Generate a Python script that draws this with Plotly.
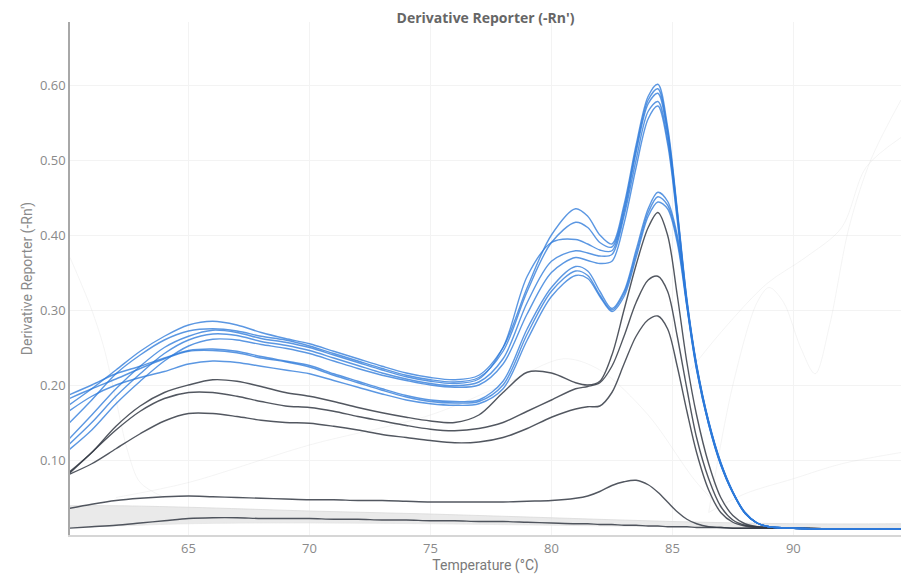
import plotly.graph_objects as go

# Temperature grid (°C) shared by the melt-curve traces
temperature = [60, 61, 62, 63, 64, 65, 66, 67, 68, 69, 70, 71, 72, 73, 74, 75, 76, 77, 78, 79, 80,
               81, 81.5, 82, 82.5, 83, 83.5, 84, 84.4, 84.8, 85.2, 85.6, 86, 86.5, 87, 87.5, 88,
               88.5, 89, 90, 92, 94.5]

# Amplified samples, main product peak near 84.4 °C
blue_1 = [0.172, 0.195, 0.220, 0.245, 0.265, 0.280, 0.285, 0.280, 0.270, 0.262, 0.255, 0.245, 0.235,
          0.225, 0.216, 0.210, 0.207, 0.213, 0.250, 0.330, 0.400, 0.435, 0.425, 0.400, 0.388, 0.440,
          0.520, 0.585, 0.601, 0.545, 0.435, 0.315, 0.228, 0.152, 0.097, 0.058, 0.030, 0.016, 0.011,
          0.009, 0.008, 0.008]
blue_2 = [0.147, 0.180, 0.215, 0.240, 0.260, 0.272, 0.275, 0.272, 0.265, 0.260, 0.252, 0.242, 0.232,
          0.222, 0.213, 0.207, 0.204, 0.210, 0.245, 0.325, 0.390, 0.417, 0.410, 0.390, 0.384, 0.435,
          0.515, 0.580, 0.595, 0.540, 0.432, 0.312, 0.226, 0.150, 0.096, 0.057, 0.030, 0.016, 0.011,
          0.009, 0.008, 0.008]
blue_3 = [0.126, 0.160, 0.195, 0.225, 0.250, 0.265, 0.273, 0.270, 0.262, 0.257, 0.250, 0.240, 0.230,
          0.220, 0.211, 0.205, 0.202, 0.208, 0.250, 0.345, 0.390, 0.394, 0.388, 0.380, 0.379, 0.430,
          0.510, 0.575, 0.589, 0.535, 0.430, 0.312, 0.225, 0.150, 0.095, 0.057, 0.029, 0.016, 0.011,
          0.009, 0.008, 0.008]
blue_4 = [0.119, 0.150, 0.185, 0.215, 0.242, 0.260, 0.268, 0.266, 0.258, 0.253, 0.246, 0.236, 0.226,
          0.216, 0.208, 0.202, 0.199, 0.204, 0.235, 0.310, 0.365, 0.379, 0.376, 0.372, 0.374, 0.425,
          0.500, 0.565, 0.578, 0.528, 0.425, 0.308, 0.222, 0.148, 0.094, 0.056, 0.029, 0.016, 0.011,
          0.009, 0.008, 0.008]
blue_5 = [0.112, 0.140, 0.175, 0.205, 0.232, 0.252, 0.261, 0.260, 0.254, 0.249, 0.242, 0.232, 0.222,
          0.213, 0.206, 0.200, 0.197, 0.200, 0.228, 0.295, 0.350, 0.370, 0.366, 0.362, 0.365, 0.415,
          0.490, 0.555, 0.572, 0.522, 0.420, 0.305, 0.220, 0.147, 0.093, 0.056, 0.029, 0.016, 0.011,
          0.009, 0.008, 0.008]
blue_6 = [0.186, 0.200, 0.215, 0.225, 0.236, 0.246, 0.248, 0.245, 0.238, 0.232, 0.226, 0.215, 0.205,
          0.195, 0.186, 0.180, 0.178, 0.180, 0.205, 0.275, 0.330, 0.358, 0.352, 0.325, 0.302, 0.325,
          0.380, 0.435, 0.457, 0.445, 0.400, 0.310, 0.226, 0.151, 0.096, 0.057, 0.030, 0.016, 0.011,
          0.009, 0.008, 0.008]
blue_7 = [0.181, 0.195, 0.208, 0.222, 0.235, 0.245, 0.246, 0.243, 0.236, 0.231, 0.224, 0.213, 0.203,
          0.193, 0.184, 0.178, 0.176, 0.178, 0.200, 0.268, 0.325, 0.352, 0.346, 0.320, 0.300, 0.322,
          0.375, 0.430, 0.451, 0.440, 0.395, 0.307, 0.224, 0.150, 0.095, 0.057, 0.030, 0.016, 0.011,
          0.009, 0.008, 0.008]
blue_8 = [0.164, 0.185, 0.200, 0.210, 0.218, 0.228, 0.232, 0.230, 0.225, 0.220, 0.215, 0.206, 0.197,
          0.188, 0.180, 0.175, 0.173, 0.175, 0.195, 0.260, 0.318, 0.346, 0.342, 0.318, 0.298, 0.318,
          0.370, 0.425, 0.444, 0.435, 0.390, 0.304, 0.222, 0.148, 0.094, 0.056, 0.029, 0.016, 0.011,
          0.009, 0.008, 0.008]

# Dark samples (standards / low-template wells)
grey_1 = [0.082, 0.110, 0.145, 0.172, 0.190, 0.200, 0.207, 0.205, 0.198, 0.190, 0.185, 0.178, 0.170,
          0.163, 0.157, 0.152, 0.150, 0.160, 0.190, 0.217, 0.216, 0.203, 0.200, 0.205, 0.240, 0.300,
          0.360, 0.410, 0.430, 0.400, 0.320, 0.230, 0.160, 0.095, 0.050, 0.026, 0.015, 0.011, 0.010,
          0.009, 0.008, 0.008]
grey_2 = [0.080, 0.110, 0.140, 0.165, 0.182, 0.190, 0.190, 0.185, 0.178, 0.172, 0.170, 0.165, 0.158,
          0.152, 0.146, 0.141, 0.139, 0.142, 0.150, 0.165, 0.180, 0.195, 0.198, 0.203, 0.225, 0.265,
          0.310, 0.340, 0.345, 0.325, 0.265, 0.195, 0.130, 0.075, 0.038, 0.020, 0.013, 0.011, 0.010,
          0.009, 0.008, 0.008]
grey_3 = [0.080, 0.095, 0.115, 0.135, 0.152, 0.162, 0.162, 0.158, 0.153, 0.150, 0.149, 0.145, 0.140,
          0.134, 0.130, 0.126, 0.123, 0.124, 0.130, 0.142, 0.157, 0.168, 0.171, 0.172, 0.190, 0.228,
          0.265, 0.287, 0.292, 0.275, 0.225, 0.165, 0.110, 0.060, 0.030, 0.017, 0.012, 0.010, 0.010,
          0.009, 0.008, 0.008]
grey_4 = [0.035, 0.041, 0.046, 0.049, 0.051, 0.052, 0.051, 0.050, 0.049, 0.048, 0.047, 0.047, 0.046,
          0.046, 0.045, 0.044, 0.044, 0.044, 0.044, 0.045, 0.046, 0.049, 0.052, 0.058, 0.066, 0.071,
          0.073, 0.067, 0.057, 0.044, 0.031, 0.021, 0.015, 0.011, 0.010, 0.009, 0.009, 0.009, 0.009,
          0.009, 0.008, 0.008]
grey_5 = [0.009, 0.011, 0.013, 0.016, 0.019, 0.022, 0.023, 0.023, 0.022, 0.022, 0.022, 0.021, 0.021,
          0.020, 0.020, 0.019, 0.019, 0.018, 0.018, 0.017, 0.016, 0.015, 0.015, 0.014, 0.014, 0.013,
          0.013, 0.012, 0.012, 0.011, 0.011, 0.011, 0.010, 0.010, 0.010, 0.009, 0.009, 0.009, 0.009,
          0.009, 0.008, 0.008]

# Pale band of no-template wells
band_temperature = [60, 62, 65, 70, 75, 80, 85, 90, 94.5]
band_upper = [0.039, 0.039, 0.037, 0.032, 0.028, 0.023, 0.018, 0.015, 0.015]
band_lower = [0.010, 0.012, 0.015, 0.016, 0.015, 0.013, 0.011, 0.009, 0.009]

# Faint background wells
faint_a_t = [86.5, 87.5, 88.5, 89.0, 89.6, 90.3, 90.9, 91.5, 92.3, 93.2, 94.45]
faint_a_v = [0.030, 0.200, 0.310, 0.330, 0.310, 0.250, 0.215, 0.280, 0.410, 0.500, 0.580]
faint_b_t = [85.5, 87.0, 88.9, 90.5, 92.0, 93.0, 94.45]
faint_b_v = [0.210, 0.270, 0.335, 0.370, 0.410, 0.490, 0.530]
faint_c_t = [86.5, 88.0, 90.0, 92.0, 94.45]
faint_c_v = [0.030, 0.055, 0.075, 0.095, 0.110]
faint_d_t = [60.1, 60.5, 61.0, 61.5, 62.0, 62.5, 63.0, 64.0]
faint_d_v = [0.370, 0.340, 0.300, 0.250, 0.180, 0.110, 0.070, 0.050]
faint_e_t = [62, 65, 70, 75, 78, 80.5, 82, 84, 86, 87.5]
faint_e_v = [0.050, 0.070, 0.120, 0.160, 0.200, 0.235, 0.220, 0.160, 0.070, 0.020]

BLUE = "rgba(45,122,218,0.78)"
GREY = "rgba(52,58,68,0.85)"
FAINT = "rgba(205,205,205,0.22)"

fig = go.Figure()


def add_line(x, y, color, width):
    fig.add_trace(go.Scatter(
        x=x, y=y, mode="lines", hoverinfo="skip", showlegend=False,
        line=dict(color=color, width=width, shape="spline", smoothing=0.9),
    ))


# no-template band
fig.add_trace(go.Scatter(x=band_temperature, y=band_lower, mode="lines", showlegend=False,
                         hoverinfo="skip", line=dict(color="rgba(225,225,225,0.6)", width=1,
                                                     shape="spline")))
fig.add_trace(go.Scatter(x=band_temperature, y=band_upper, mode="lines", showlegend=False,
                         hoverinfo="skip", fill="tonexty", fillcolor="rgba(225,225,225,0.7)",
                         line=dict(color="rgba(215,215,215,0.7)", width=1, shape="spline")))

for t, v in [(faint_a_t, faint_a_v), (faint_b_t, faint_b_v), (faint_c_t, faint_c_v),
             (faint_d_t, faint_d_v), (faint_e_t, faint_e_v)]:
    add_line(t, v, FAINT, 1)

for series in [grey_5, grey_4, grey_3, grey_2, grey_1]:
    add_line(temperature, series, GREY, 1.4)

for series in [blue_8, blue_7, blue_6, blue_5, blue_4, blue_3, blue_2, blue_1]:
    add_line(temperature, series, BLUE, 1.4)

fig.update_layout(
    width=901, height=576,
    margin=dict(l=70, r=0, t=22, b=41),
    paper_bgcolor="white", plot_bgcolor="white",
    font=dict(family="Open Sans", color="#808080"),
    title=dict(text="<b>Derivative Reporter (-Rn')</b>", x=0.5, xref="paper",
               y=1 - 18 / 576, yref="container", yanchor="middle", xanchor="center",
               font=dict(family="Open Sans", size=14, color="#666666")),
)
fig.update_xaxes(
    range=[60.1, 94.45], tickvals=[65, 70, 75, 80, 85, 90], ticks="",
    showgrid=True, gridcolor="#f3f3f3", gridwidth=1, zeroline=False,
    showline=True, linecolor="#d6d6d6", linewidth=2,
    tickfont=dict(family="Open Sans", size=13, color="#8a8a8a"),
    title=dict(text="Temperature (°C)", standoff=4,
               font=dict(family="Roboto", size=14, color="#7a7a7a")),
)
fig.update_yaxes(
    range=[0.0, 0.684], tickvals=[0.1, 0.2, 0.3, 0.4, 0.5, 0.6], tickformat=".2f", ticks="",
    showgrid=True, gridcolor="#f3f3f3", gridwidth=1, zeroline=False,
    showline=True, linecolor="#a8a8a8", linewidth=1.5,
    tickfont=dict(family="Open Sans", size=13, color="#8a8a8a"),
    title=dict(text="Derivative Reporter (-Rn')", standoff=4,
               font=dict(family="Roboto", size=14, color="#8a8a8a")),
)

fig.write_html("out.html")
